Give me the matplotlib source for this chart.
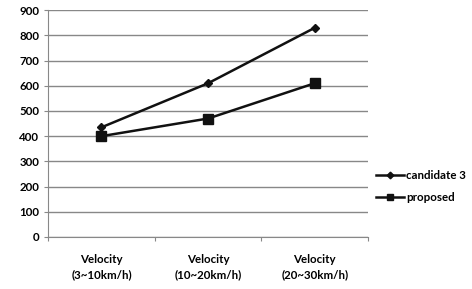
import matplotlib
matplotlib.use("Agg")
import matplotlib.pyplot as plt

# Values
categories = ["Velocity\n(3~10km/h)", "Velocity\n(10~20km/h)", "Velocity\n(20~30km/h)"]
candidate3 = [435, 610, 830]
proposed = [400, 470, 610]
y_ticks = [0, 100, 200, 300, 400, 500, 600, 700, 800, 900]

plt.rcParams['font.family'] = ['Lato', 'DejaVu Sans']

fig = plt.figure(figsize=(4.72, 2.89), dpi=100)
ax = fig.add_axes([0.102, 0.18, 0.678, 0.785])

x = [i + 0.5 for i in range(len(categories))]
l1, = ax.plot(x, candidate3, color='#111111', lw=1.8, marker='D', ms=4.5,
              label='candidate 3')
l2, = ax.plot(x, proposed, color='#111111', lw=1.8, marker='s', ms=6.5,
              label='proposed')

ax.set_xlim(0, len(categories))
ax.set_ylim(0, 900)
ax.set_yticks(y_ticks)
ax.set_xticks(range(len(categories) + 1), minor=False)
ax.set_xticklabels([])
ax.set_xticks(x, minor=True)
ax.set_xticklabels(categories, minor=True, fontsize=8.3, fontweight='bold',
                   linespacing=1.5)
ax.tick_params(axis='x', which='minor', length=0, pad=12)
ax.tick_params(axis='x', which='major', length=3, color='#888888')
ax.tick_params(axis='y', length=3, color='#888888', labelsize=8.3)
for t in ax.get_yticklabels():
    t.set_fontweight('bold')

ax.grid(axis='y', color='#888888', lw=1)
ax.set_axisbelow(True)
for s in ['top', 'right']:
    ax.spines[s].set_visible(False)
ax.spines['left'].set_color('#888888')
ax.spines['bottom'].set_color('#888888')

fig.legend(handles=[l1, l2], loc='center left', bbox_to_anchor=(0.775, 0.355),
           frameon=False, handlelength=2.4, handletextpad=0.2, markerscale=0.75,
           labelspacing=1.0, prop={'weight': 'bold', 'size': 8.3})

fig.savefig("out.png", dpi=100)
